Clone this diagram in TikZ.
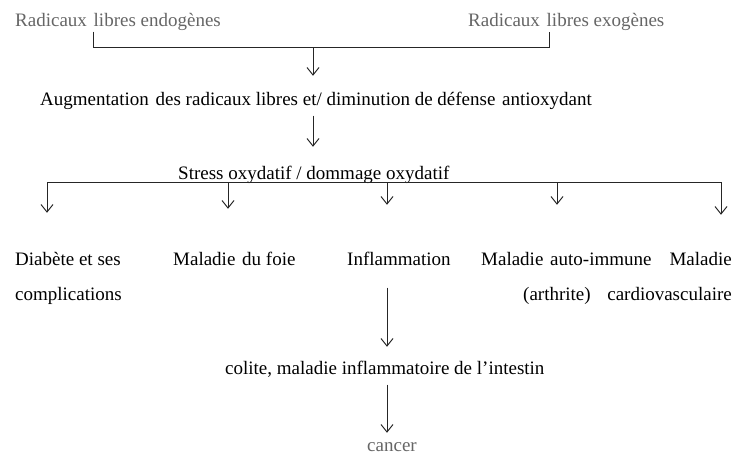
\documentclass[tikz,border=0pt]{standalone}
\usepackage{fontspec}
\setmainfont{Liberation Serif}
\usetikzlibrary{arrows.meta}

\begin{document}
\begin{tikzpicture}[x=1pt,y=-1pt,
  lab/.style={anchor=base west, inner sep=0pt, text height=13pt, text depth=4.5pt,
              font=\fontsize{19}{22}\selectfont, text=black},
  soft/.style={lab, text=black!60},
  wire/.style={draw=black!85, line width=1pt},
  arr/.style={wire, -{Straight Barb[length=7.5pt,width=12pt,line width=1pt]}}]
  \useasboundingbox (0,0) rectangle (734,455);
  \fill[white] (0,0) rectangle (734,455);

  % sources
  \node[soft] (endo) at (15,27) {Radicaux\hspace{2pt} libres endogènes};
  \node[soft] (exo)  at (468,27) {Radicaux\hspace{2pt} libres exogènes};

  % central chain
  \node[lab] (aug) at (40,105) {Augmentation\hspace{2pt} des radicaux libres et/ diminution de défense\hspace{2pt} antioxydant};
  \node[lab] (stress) at (178,179) {Stress oxydatif / dommage oxydatif};

  % consequences
  \node[lab] (diab)  at (15,265) {Diabète et ses};
  \node[lab] (compl) at (15,300) {complications};
  \node[lab] (foie)  at (173,265) {Maladie\hspace{2pt} du foie};
  \node[lab] (infl)  at (347,265) {Inflammation};
  \node[lab] (auto)  at (481,265) {Maladie\hspace{2pt} auto-immune};
  \node[lab] (arth)  at (523,300) {(arthrite)};
  \node[lab, anchor=base east] (cv1) at (732,265) {Maladie};
  \node[lab, anchor=base east] (cv2) at (732,300) {cardiovasculaire};
  \node[lab] (colite) at (225,374) {colite, maladie inflammatoire de l'intestin};
  \node[soft] (cancer) at (367,451) {cancer};

  % junction points
  \coordinate (jL) at (93,47);
  \coordinate (jM) at (313,47);
  \coordinate (jR) at (549,47);
  \coordinate (bL) at (47,182);
  \coordinate (bR) at (721,182);
  \coordinate (b2) at (228,182);
  \coordinate (b3) at (387,182);
  \coordinate (b4) at (557,182);

  % bracket joining the two sources
  \draw[wire] (jL |- endo.south) -- (jL) -- (jR) -- (jR |- exo.south);
  \draw[arr, shorten >=16pt] (jM) -- (jM |- aug.north);
  \draw[arr, shorten <=6pt, shorten >=19pt] (jM |- aug.south) -- (jM |- stress.north);

  % branching bar
  \draw[wire] (bL) -- (bR);
  \draw[arr, shorten >=39pt] (bL) -- (bL |- diab.north);
  \draw[arr, shorten >=43pt] (b2) -- (b2 |- foie.north);
  \draw[arr, shorten >=47pt] (b3) -- (b3 |- infl.north);
  \draw[arr, shorten >=47pt] (b4) -- (b4 |- auto.north);
  \draw[arr, shorten >=37pt] (bR) -- (bR |- cv1.north);

  % inflammation pathway
  \draw[arr, shorten <=18pt, shorten >=14pt] (b3 |- infl.south) -- (b3 |- colite.north);
  \draw[arr, shorten <=6pt, shorten >=5pt] (b3 |- colite.south) -- (b3 |- cancer.north);
\end{tikzpicture}
\end{document}
